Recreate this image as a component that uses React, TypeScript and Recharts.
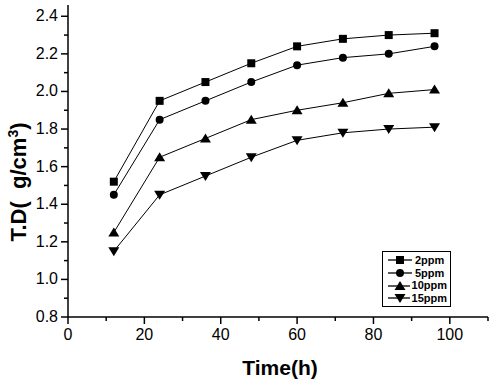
import { LineChart, Line, XAxis, YAxis, Legend, Label } from 'recharts';

const hours = [12, 24, 36, 48, 60, 72, 84, 96];
const ppm2 = [1.52, 1.95, 2.05, 2.15, 2.24, 2.28, 2.3, 2.31];
const ppm5 = [1.45, 1.85, 1.95, 2.05, 2.14, 2.18, 2.2, 2.24];
const ppm10 = [1.25, 1.65, 1.75, 1.85, 1.9, 1.94, 1.99, 2.01];
const ppm15 = [1.15, 1.45, 1.55, 1.65, 1.74, 1.78, 1.8, 1.81];
const seriesNames = ['2ppm', '5ppm', '10ppm', '15ppm'];
const markers = ['square', 'circle', 'up', 'down'];

const xTicks = [0, 10, 20, 30, 40, 50, 60, 70, 80, 90, 100, 110];
const yTicks = [0.8, 0.9, 1.0, 1.1, 1.2, 1.3, 1.4, 1.5, 1.6, 1.7, 1.8, 1.9, 2.0, 2.1, 2.2, 2.3, 2.4];
const xDomain = [0, 110];
const yDomain = [0.8, 2.46];

// mirrored top/right axes are split in 10 equal parts in the original
const topTicks = Array.from({ length: 11 }, (_, i) => xDomain[0] + (i * (xDomain[1] - xDomain[0])) / 10);
const rightTicks = Array.from({ length: 11 }, (_, i) => yDomain[0] + (i * (yDomain[1] - yDomain[0])) / 10);

const data = hours.map((h, i) => ({
  h,
  [seriesNames[0]]: ppm2[i],
  [seriesNames[1]]: ppm5[i],
  [seriesNames[2]]: ppm10[i],
  [seriesNames[3]]: ppm15[i],
}));

const FONT = '"Liberation Sans", Arial, sans-serif';

function Marker({ cx, cy, kind }: { cx: number; cy: number; kind: string }) {
  if (kind === 'square') return <rect x={cx - 4} y={cy - 4} width={8} height={8} fill="#000" />;
  if (kind === 'circle') return <circle cx={cx} cy={cy} r={4} fill="#000" />;
  if (kind === 'up')
    return <polygon points={`${cx},${cy - 5} ${cx + 5.5},${cy + 4} ${cx - 5.5},${cy + 4}`} fill="#000" />;
  return <polygon points={`${cx},${cy + 5} ${cx + 5.5},${cy - 4} ${cx - 5.5},${cy - 4}`} fill="#000" />;
}

const BottomTick = (props: any) => {
  const { x, y, payload } = props;
  const v = payload.value;
  const major = v % 20 === 0;
  return (
    <g>
      <line x1={x} y1={y} x2={x} y2={y + (major ? 7 : 4)} stroke="#000" strokeWidth={1.5} />
      {major && v <= 100 && (
        <text x={x} y={y + 23} textAnchor="middle" fontSize={16} fontFamily={FONT} fill="#000">
          {v}
        </text>
      )}
    </g>
  );
};

const LeftTick = (props: any) => {
  const { x, y, payload } = props;
  const v = payload.value;
  const major = Math.round(v * 10) % 2 === 0;
  return (
    <g>
      <line x1={x} y1={y} x2={x - (major ? 7 : 4)} y2={y} stroke="#000" strokeWidth={1.5} />
      {major && (
        <text x={x - 10} y={y + 5} textAnchor="end" fontSize={16} fontFamily={FONT} fill="#000">
          {v.toFixed(1)}
        </text>
      )}
    </g>
  );
};

const TopTick = (props: any) => {
  const { x, y } = props;
  return <line x1={x} y1={y} x2={x} y2={y + 5} stroke="#000" strokeWidth={1.5} />;
};

const RightTick = (props: any) => {
  const { x, y } = props;
  return <line x1={x} y1={y} x2={x - 5} y2={y} stroke="#000" strokeWidth={1.5} />;
};

const LegendBox = () => (
  <div
    style={{
      border: '1px solid #000',
      background: '#fff',
      padding: '2px 3px 1px 4px',
      fontFamily: FONT,
      fontSize: 11,
      fontWeight: 'bold',
      lineHeight: '12.7px',
      width: 60,
    }}
  >
    {seriesNames.map((name, i) => (
      <div key={name} style={{ display: 'flex', alignItems: 'center', height: 12.7 }}>
        <svg width={26} height={12} style={{ display: 'block' }}>
          <line x1={1} y1={6} x2={25} y2={6} stroke="#000" strokeWidth={1.3} />
          <Marker cx={13} cy={6} kind={markers[i]} />
        </svg>
        <span style={{ marginLeft: 2, color: '#000' }}>{name}</span>
      </div>
    ))}
  </div>
);

export default function App() {
  return (
    <div style={{ position: 'absolute', left: 0, top: 0, width: 500, height: 384, background: '#fff' }}>
      <LineChart width={500} height={384} data={data} margin={{ top: 5, right: 12, bottom: 0, left: 0 }}>
        <XAxis
          dataKey="h"
          type="number"
          domain={xDomain}
          ticks={xTicks}
          interval={0}
          height={67}
          tickSize={0}
          tickMargin={0}
          tickLine={false}
          tick={<BottomTick />}
          axisLine={{ stroke: '#000', strokeWidth: 1.5 }}
        >
          <Label
            content={() => (
              <text x={280} y={375} textAnchor="middle" fontSize={21} fontWeight="bold" fontFamily={FONT} fill="#000">
                Time(h)
              </text>
            )}
          />
        </XAxis>
        <XAxis
          xAxisId="top"
          orientation="top"
          type="number"
          domain={xDomain}
          ticks={topTicks}
          interval={0}
          height={0}
          tickSize={0}
          tickMargin={0}
          tickLine={false}
          tick={<TopTick />}
          axisLine={{ stroke: '#000', strokeWidth: 1.5 }}
          allowDataOverflow
        />
        <YAxis
          type="number"
          domain={yDomain}
          ticks={yTicks}
          interval={0}
          width={68}
          tickSize={0}
          tickMargin={0}
          tickLine={false}
          tick={<LeftTick />}
          axisLine={{ stroke: '#000', strokeWidth: 1.5 }}
          allowDataOverflow
        >
          <Label
            content={() => (
              <text
                transform="translate(26,182) rotate(-90)"
                textAnchor="middle"
                fontSize={22}
                fontWeight="bold"
                fontFamily={FONT}
                fill="#000"
              >
                {'T.D(\u00a0\u00a0g/cm'}
                <tspan dy={-8} fontSize={14}>
                  3
                </tspan>
                <tspan dy={8}>)</tspan>
              </text>
            )}
          />
        </YAxis>
        <YAxis
          yAxisId="right"
          orientation="right"
          type="number"
          domain={yDomain}
          ticks={rightTicks}
          interval={0}
          width={0}
          tickSize={0}
          tickMargin={0}
          tickLine={false}
          tick={<RightTick />}
          axisLine={{ stroke: '#000', strokeWidth: 1.5 }}
          allowDataOverflow
        />
        <Legend
          layout="vertical"
          align="center"
          verticalAlign="middle"
          content={<LegendBox />}
          wrapperStyle={{ left: 382, top: 251, width: 68, right: 'auto', bottom: 'auto' }}
        />
        {seriesNames.map((name, i) => (
          <Line
            key={name}
            dataKey={name}
            stroke="#000"
            strokeWidth={1}
            isAnimationActive={false}
            dot={(p: any) => <Marker key={`${name}-${p.index}`} cx={p.cx} cy={p.cy} kind={markers[i]} />}
            activeDot={false}
          />
        ))}
      </LineChart>
    </div>
  );
}
